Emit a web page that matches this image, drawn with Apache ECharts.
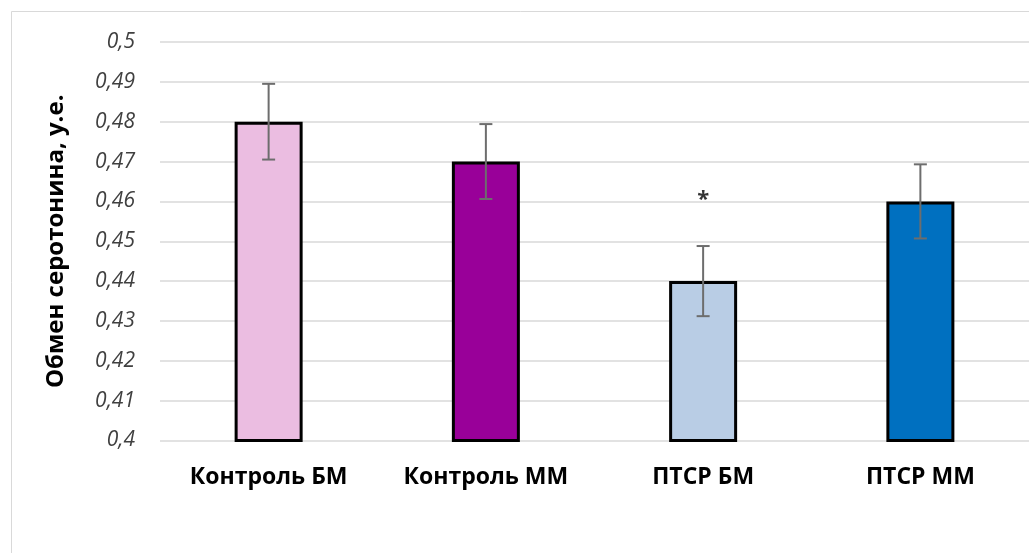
<!DOCTYPE html>
<html>
<head>
<meta charset="utf-8">
<script src="https://cdn.jsdelivr.net/npm/echarts@6/dist/echarts.min.js"></script>
<style>
html,body{margin:0;padding:0;background:#fff;}
#chart{width:1029px;height:553px;}
</style>
</head>
<body>
<div id="chart"></div>
<script>
const categories = ['Контроль БМ', 'Контроль ММ', 'ПТСР БМ', 'ПТСР ММ'];
const values = [0.48, 0.47, 0.44, 0.46];
const errors = [0.0095, 0.0094, 0.0088, 0.0093];
const barColors = ['#EBBDE1', '#990099', '#B9CDE5', '#0070C0'];
const significance = ['', '', '*', ''];
const significanceLevel = [null, null, 0.4603, null];
const yTicks = { min: 0.4, max: 0.5, interval: 0.01 };
const yTitle = 'Обмен серотонина, у.е.';

const chart = echarts.init(document.getElementById('chart'), null, { renderer: 'canvas' });
const font = '"Open Sans", "Noto Sans", sans-serif';

chart.setOption({
  animation: false,
  backgroundColor: '#fff',
  graphic: [{
    type: 'rect', left: 9, top: 9, z: -10,
    shape: { width: 1200, height: 700 },
    style: { fill: 'none', stroke: '#d9d9d9', lineWidth: 1 }
  }],
  grid: { left: 160, top: 42, width: 881, height: 398.5, containLabel: false },
  xAxis: {
    type: 'category',
    data: categories,
    axisLine: { show: false },
    axisTick: { show: false },
    axisLabel: { color: '#000', fontFamily: font, fontWeight: 'bold', fontSize: 23, margin: 25 }
  },
  yAxis: {
    type: 'value',
    min: yTicks.min, max: yTicks.max, interval: yTicks.interval,
    name: yTitle,
    nameLocation: 'middle',
    nameGap: 92,
    nameTextStyle: { color: '#000', fontFamily: font, fontWeight: 'bold', fontSize: 24 },
    axisLine: { show: false },
    axisTick: { show: false },
    splitLine: { lineStyle: { color: '#d9d9d9', width: 1.5 } },
    axisLabel: {
      color: '#404040', fontFamily: font, fontStyle: 'italic', fontSize: 21, margin: 25,
      formatter: v => String(Math.round(v * 100) / 100).replace('.', ',')
    }
  },
  series: [
    {
      type: 'bar',
      barWidth: 68,
      data: values.map((v, i) => ({ value: v, itemStyle: { color: barColors[i] } })),
      itemStyle: { borderColor: '#000', borderWidth: 3 }
    },
    {
      type: 'custom',
      z: 5,
      data: values.map((v, i) => [i, v - errors[i], v + errors[i]]),
      renderItem: function (params, api) {
        const lo = api.coord([api.value(0), api.value(1)]);
        const hi = api.coord([api.value(0), api.value(2)]);
        const hw = 6.5;
        const st = { stroke: '#6d6d6d', lineWidth: 2 };
        return {
          type: 'group',
          children: [
            { type: 'line', shape: { x1: lo[0], y1: lo[1], x2: hi[0], y2: hi[1] }, style: st },
            { type: 'line', shape: { x1: lo[0] - hw, y1: lo[1], x2: lo[0] + hw, y2: lo[1] }, style: st },
            { type: 'line', shape: { x1: hi[0] - hw, y1: hi[1], x2: hi[0] + hw, y2: hi[1] }, style: st }
          ]
        };
      }
    },
    {
      type: 'scatter',
      symbolSize: 0,
      data: significanceLevel.map((v, i) => v == null ? null : { value: [i, v], label: { show: true, formatter: significance[i] } }),
      label: {
        position: 'inside', color: '#000', fontFamily: font, fontWeight: 'bold', fontSize: 22
      }
    }
  ]
});
</script>
</body>
</html>
